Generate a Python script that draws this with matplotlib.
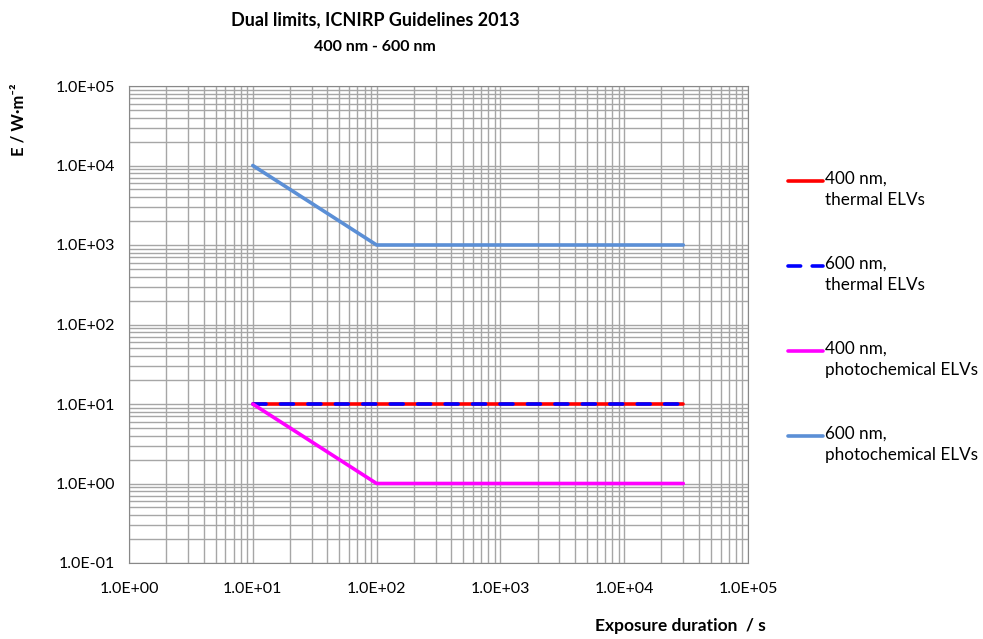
import numpy as np
import matplotlib.pyplot as plt
from matplotlib.lines import Line2D
from matplotlib.ticker import FuncFormatter, LogLocator

plt.rcParams["font.family"] = ["Lato", "DejaVu Sans"]

# data
t_thermal = [10, 30000]
e_400_thermal = [10, 10]
e_600_thermal = [10, 10]
t_photo = [10, 100, 30000]
e_400_photo = [10, 1, 1]
e_600_photo = [10000, 1000, 1000]
labels = ["400 nm,\nthermal ELVs", "600 nm,\nthermal ELVs",
          "400 nm,\nphotochemical ELVs", "600 nm,\nphotochemical ELVs"]

fig = plt.figure(figsize=(9.83, 6.39), dpi=100)
ax = fig.add_axes([129 / 983, 1 - 563 / 639, (748 - 129) / 983, (563 - 86) / 639])

lines = []
lines += ax.plot(t_thermal, e_400_thermal, color="#ff0000", lw=2.6, solid_capstyle="round")
lines += ax.plot(t_thermal, e_600_thermal, color="#0000ff", lw=2.6, dashes=(3.6, 4.0),
                 dash_capstyle="round")
lines += ax.plot(t_photo, e_400_photo, color="#ff00ff", lw=2.6, solid_capstyle="round")
lines += ax.plot(t_photo, e_600_photo, color="#5b8fd6", lw=2.6, solid_capstyle="round")

ax.set_xscale("log")
ax.set_yscale("log")
ax.set_xlim(1, 1e5)
ax.set_ylim(0.1, 1e5)

fmt = FuncFormatter(lambda v, p: "{:.1E}".format(v))
ax.xaxis.set_major_formatter(fmt)
ax.yaxis.set_major_formatter(fmt)
ax.xaxis.set_minor_locator(LogLocator(base=10, subs=np.arange(2, 10)))
ax.yaxis.set_minor_locator(LogLocator(base=10, subs=np.arange(2, 10)))
ax.xaxis.set_minor_formatter(plt.NullFormatter())
ax.yaxis.set_minor_formatter(plt.NullFormatter())

ax.grid(True, which="major", color="#a6a6a6", lw=1.0)
ax.grid(True, which="minor", color="#a6a6a6", lw=1.0)
ax.set_axisbelow(True)
ax.tick_params(which="both", length=0, labelsize=11.5, pad=14)
ax.tick_params(axis="y", pad=10)
for s in ax.spines.values():
    s.set_color("#888888")

fig.text(375 / 983, 1 - 20 / 639, "Dual limits, ICNIRP Guidelines 2013",
         ha="center", va="center", fontsize=13, fontweight="bold")
fig.text(375 / 983, 1 - 47 / 639, "400 nm - 600 nm",
         ha="center", va="center", fontsize=11.5, fontweight="bold")
fig.text(18 / 983, 1 - 120 / 639, "E / W·m⁻²", rotation=90,
         ha="center", va="center", fontsize=12, fontweight="bold")
fig.text(680 / 983, 1 - 626 / 639, "Exposure duration  / s",
         ha="center", va="center", fontsize=12.5, fontweight="bold")

# legend, drawn by hand: handle level with the first text line
for i, (ln, lab) in enumerate(zip(lines, labels)):
    y0 = 1 - (181 + 85 * i) / 639
    h = Line2D([788 / 983, 823 / 983], [y0, y0], transform=fig.transFigure,
               color=ln.get_color(), lw=ln.get_linewidth(), solid_capstyle="round",
               dash_capstyle="round")
    if i == 1:
        h.set_dashes((3.5, 3.2))
    fig.add_artist(h)
    fig.text(825 / 983, y0 + 10 / 639, lab, ha="left", va="top", fontsize=12.3,
             linespacing=1.4)

fig.savefig("out.png", dpi=100)
